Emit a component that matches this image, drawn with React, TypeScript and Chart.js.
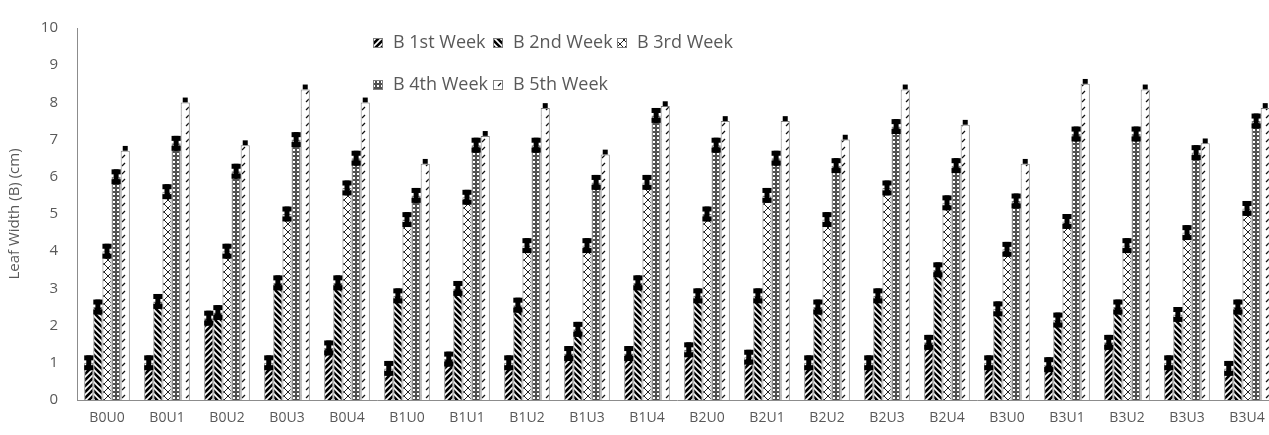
import { useEffect, useRef } from "react";
import { Chart, registerables } from "chart.js";
Chart.register(...registerables);

const categories = ["B0U0", "B0U1", "B0U2", "B0U3", "B0U4", "B1U0", "B1U1", "B1U2", "B1U3", "B1U4", "B2U0", "B2U1", "B2U2", "B2U3", "B2U4", "B3U0", "B3U1", "B3U2", "B3U3", "B3U4"];
const seriesLabels = ["B 1st Week", "B 2nd Week", "B 3rd Week", "B 4th Week", "B 5th Week"];
const week1 = [1.0, 1.0, 2.2, 1.0, 1.4, 0.85, 1.1, 1.0, 1.25, 1.25, 1.35, 1.15, 1.0, 1.0, 1.55, 1.0, 0.95, 1.55, 1.0, 0.85];
const week2 = [2.5, 2.65, 2.35, 3.15, 3.15, 2.8, 3.0, 2.55, 1.9, 3.15, 2.8, 2.8, 2.5, 2.8, 3.5, 2.45, 2.15, 2.5, 2.3, 2.5];
const week3 = [4.0, 5.6, 4.0, 5.0, 5.7, 4.85, 5.45, 4.15, 4.15, 5.85, 5.0, 5.5, 4.85, 5.7, 5.3, 4.05, 4.8, 4.15, 4.5, 5.15];
const week4 = [6.0, 6.9, 6.15, 7.0, 6.5, 5.5, 6.85, 6.85, 5.85, 7.65, 6.85, 6.5, 6.3, 7.35, 6.3, 5.35, 7.15, 7.15, 6.65, 7.5];
const week5 = [6.7, 8.0, 6.85, 8.35, 8.0, 6.35, 7.1, 7.85, 6.6, 7.9, 7.5, 7.5, 7.0, 8.35, 7.4, 6.35, 8.5, 8.35, 6.9, 7.85];
const errorSizes = [0.2, 0.2, 0.2, 0.2, 0.13];
const yMin = 0;
const yMax = 10;
const yStep = 1;
const yTitle = "Leaf Width (B) (cm)";

const TEXT = "#595959";
const FONT = "'Open Sans', 'Noto Sans', sans-serif";

function makePattern(kind: number): CanvasPattern | string {
  const c = document.createElement("canvas");
  const s = kind === 2 || kind === 4 ? 8 : kind === 3 ? 4 : 6;
  c.width = s;
  c.height = s;
  const g = c.getContext("2d")!;
  if (kind === 0 || kind === 1) {
    g.fillStyle = "#000";
    g.fillRect(0, 0, s, s);
    g.strokeStyle = "#fff";
    g.lineWidth = 1.6;
    g.beginPath();
    if (kind === 0) {
      g.moveTo(-s, s * 2); g.lineTo(s * 2, -s);
      g.moveTo(-s, s); g.lineTo(s, -s);
      g.moveTo(0, s * 2); g.lineTo(s * 2, 0);
    } else {
      g.moveTo(-s, -s); g.lineTo(s * 2, s * 2);
      g.moveTo(-s, 0); g.lineTo(s, s * 2);
      g.moveTo(0, -s); g.lineTo(s * 2, s);
    }
    g.stroke();
  } else if (kind === 2) {
    g.fillStyle = "#fff";
    g.fillRect(0, 0, s, s);
    g.strokeStyle = "#222";
    g.lineWidth = 1;
    g.beginPath();
    g.moveTo(0, 0); g.lineTo(s, s);
    g.moveTo(s, 0); g.lineTo(0, s);
    g.stroke();
  } else if (kind === 3) {
    g.fillStyle = "#505050";
    g.fillRect(0, 0, s, s);
    g.fillStyle = "#fff";
    g.fillRect(1, 1, 2, 2);
  } else {
    g.fillStyle = "#fff";
    g.fillRect(0, 0, s, s);
    g.strokeStyle = "#111";
    g.lineWidth = 1.2;
    g.beginPath();
    g.moveTo(2, 6); g.lineTo(5, 3);
    g.stroke();
  }
  return g.createPattern(c, "repeat") || "#888";
}

export default function App() {
  const ref = useRef<HTMLCanvasElement>(null);
  useEffect(() => {
    if (!ref.current) return;
    const patterns = [0, 1, 2, 3, 4].map(makePattern);
    const series = [week1, week2, week3, week4, week5];

    const errorPlugin = {
      id: "errorBars",
      afterDatasetsDraw(chart: any) {
        const ctx = chart.ctx;
        const y = chart.scales.y;
        ctx.save();
        ctx.fillStyle = "#000";
        chart.data.datasets.forEach((ds: any, di: number) => {
          const meta = chart.getDatasetMeta(di);
          const e = errorSizes[di];
          meta.data.forEach((bar: any, i: number) => {
            const v = ds.data[i];
            const x = bar.x;
            const w = bar.width;
            const yTop = y.getPixelForValue(v + e);
            const yMid = y.getPixelForValue(v);
            if (di === 4) {
              ctx.fillRect(x - 2.5, yTop, 5, yMid - yTop);
            } else {
              const yBot = y.getPixelForValue(v - e);
              ctx.fillRect(x - w / 2, yTop, w, 5);
              ctx.fillRect(x - w / 2, yBot - 5, w, 5);
              ctx.fillRect(x - 2.5, yTop, 5, yBot - yTop);
            }
          });
        });
        ctx.restore();
      },
    };

    const legendPlugin = {
      id: "customLegend",
      afterDraw(chart: any) {
        const ctx = chart.ctx;
        const items = [
          { x: 373, y: 43 },
          { x: 493, y: 43 },
          { x: 617, y: 43 },
          { x: 373, y: 85 },
          { x: 493, y: 85 },
        ];
        ctx.save();
        ctx.font = `18px ${FONT}`;
        ctx.textBaseline = "middle";
        ctx.textAlign = "left";
        items.forEach((it, i) => {
          ctx.fillStyle = patterns[i] as any;
          ctx.fillRect(it.x, it.y - 5, 10, 10);
          ctx.strokeStyle = "#7f7f7f";
          ctx.lineWidth = 1;
          ctx.strokeRect(it.x + 0.5, it.y - 4.5, 9, 9);
          ctx.fillStyle = TEXT;
          ctx.fillText(seriesLabels[i], it.x + 20, it.y);
        });
        ctx.restore();
      },
    };

    const chart = new Chart(ref.current, {
      type: "bar",
      data: {
        labels: categories,
        datasets: series.map((d, i) => ({
          label: seriesLabels[i],
          data: d,
          backgroundColor: patterns[i] as any,
          borderColor: "#7f7f7f",
          borderWidth: 1,
          categoryPercentage: 0.76,
          barPercentage: 1.0,
        })),
      },
      options: {
        animation: false,
        responsive: false,
        devicePixelRatio: 1,
        layout: { padding: { top: 21, right: 13, left: 0, bottom: 0 } },
        plugins: {
          legend: { display: false },
          tooltip: { enabled: false },
        },
        scales: {
          x: {
            grid: { display: false, drawTicks: false },
            border: { display: true, color: "#8c8c8c", width: 1 },
            ticks: { color: TEXT, font: { family: FONT, size: 14 }, padding: 10, maxRotation: 0, autoSkip: false },
            afterFit: (s: any) => { s.height = 35; },
          },
          y: {
            min: yMin,
            max: yMax,
            grid: { display: false, drawTicks: false },
            border: { display: true, color: "#8c8c8c", width: 1 },
            ticks: { stepSize: yStep, color: TEXT, font: { family: FONT, size: 15 }, padding: 19 },
            title: { display: true, text: yTitle, color: TEXT, font: { family: FONT, size: 15 }, padding: { top: 6, bottom: 4 } },
            afterFit: (s: any) => { s.width = 77; },
          },
        },
      },
      plugins: [errorPlugin, legendPlugin],
    });
    return () => chart.destroy();
  }, []);

  return (
    <div style={{ position: "fixed", left: 0, top: 0, width: 1269, height: 435, overflow: "hidden", background: "#fff" }}>
      <canvas ref={ref} width={1290} height={435} style={{ width: 1290, height: 435, display: "block" }} />
    </div>
  );
}
